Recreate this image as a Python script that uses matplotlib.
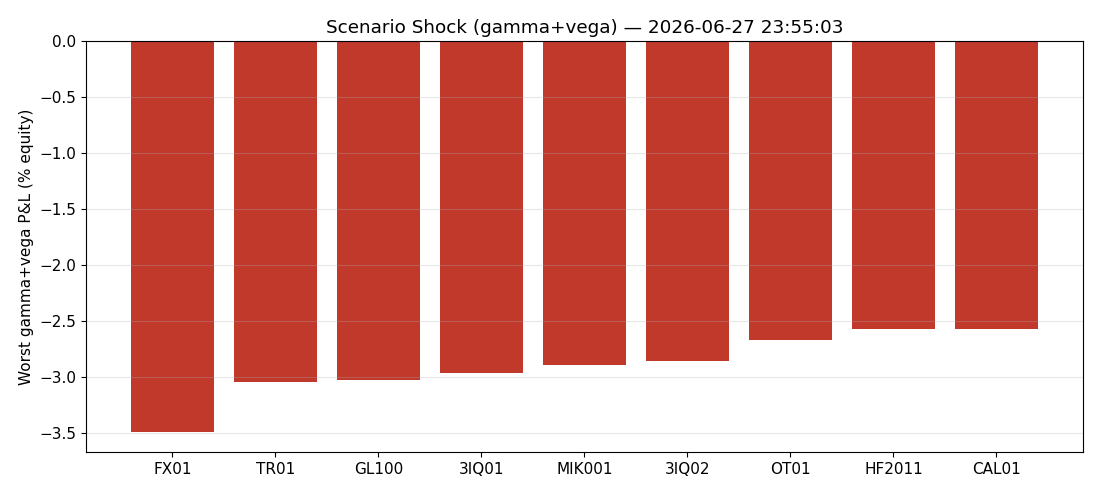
import matplotlib
matplotlib.use("Agg")
import matplotlib.pyplot as plt
import numpy as np

# Données
comptes = ["FX01", "TR01", "GL100", "3IQ01", "MIK001", "3IQ02", "OT01", "HF2011", "CAL01"]
pnl_pire = [-3.49, -3.04, -3.025, -2.96, -2.89, -2.855, -2.67, -2.57, -2.57]
horodatage = "2026-06-27 23:55:03"

plt.rcParams["font.size"] = 11

fig, ax = plt.subplots(figsize=(11, 4.95), dpi=100)

x = np.arange(len(comptes))
ax.bar(x, pnl_pire, color="#c0392b")

ax.set_xticks(x)
ax.set_xticklabels(comptes)
ax.set_ylabel("Worst gamma+vega P&L (% equity)")
ax.set_title(f"Scenario Shock (gamma+vega) \u2014 {horodatage}")
ax.grid(axis="y", alpha=0.3)

fig.subplots_adjust(left=0.078, right=0.9845, top=0.917, bottom=0.087)
fig.savefig("out.png", dpi=100)
